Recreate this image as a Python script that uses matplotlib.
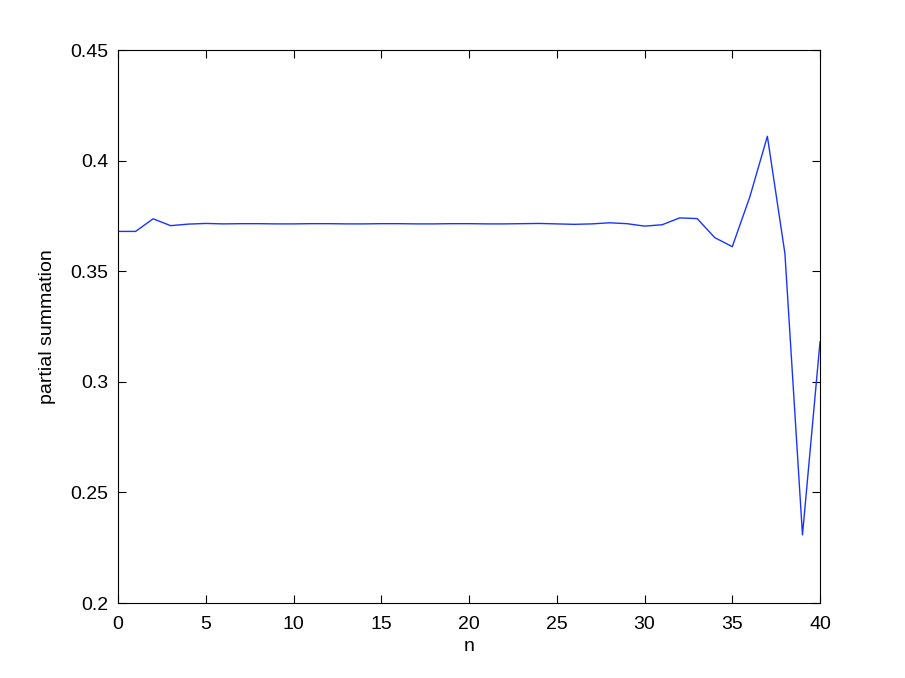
import numpy as np
import matplotlib
matplotlib.use("Agg")
import matplotlib.pyplot as plt

plt.rcParams["font.family"] = "Liberation Sans"
plt.rcParams.update({'font.size': 14})

# partial sums
n = np.arange(0, 41)
s = [0.3680, 0.3680, 0.3737, 0.3706, 0.3713, 0.3716, 0.3714, 0.3715, 0.3715, 0.3714,
     0.3714, 0.3715, 0.3715, 0.3714, 0.3714, 0.3715, 0.3715, 0.3714, 0.3714, 0.3715,
     0.3715, 0.3714, 0.3714, 0.3715, 0.3716, 0.3714, 0.3712, 0.3714, 0.3719, 0.3715,
     0.3704, 0.3710, 0.3741, 0.3738, 0.3652, 0.3611, 0.3836, 0.4110, 0.3580, 0.2308,
     0.3181]

fig = plt.figure(figsize=(9.05, 6.78), dpi=100)
ax = fig.add_axes([0.1304, 0.1106, 0.7757, 0.8156])
ax.plot(n, s, color=(0.1, 0.2, 1.0), linewidth=1.0)

ax.set_xlim(0, 40)
ax.set_ylim(0.2, 0.45)
ax.set_xticks(np.arange(0, 41, 5))
ax.set_yticks([0.2, 0.25, 0.3, 0.35, 0.4, 0.45])
ax.set_yticklabels(['0.2', '0.25', '0.3', '0.35', '0.4', '0.45'])
ax.tick_params(direction='in', top=True, right=True, length=6, width=0.8)
ax.tick_params(axis='x', pad=9)
ax.tick_params(axis='y', pad=7)
for sp in ax.spines.values():
    sp.set_linewidth(0.8)
ax.set_xlabel("n", labelpad=4)
ax.set_ylabel("partial summation", labelpad=10)

plt.savefig('out.png', dpi=100)
